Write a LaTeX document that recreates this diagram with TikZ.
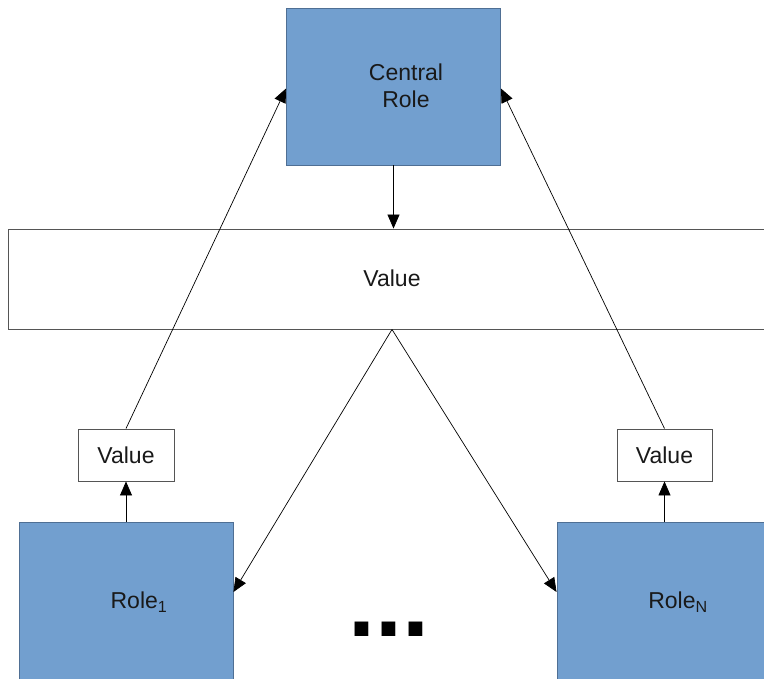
\documentclass[tikz,border=0pt]{standalone}
\usepackage{fontspec}
\setmainfont{Liberation Sans}
\usetikzlibrary{arrows.meta,calc}
\definecolor{roleblue}{HTML}{729FCF}
\definecolor{roleedge}{HTML}{4F6F94}
\definecolor{boxedge}{HTML}{555555}
\begin{document}
\begin{tikzpicture}[x=1pt,y=-1pt,
  rolebox/.style={draw=roleedge,line width=0.9pt,fill=roleblue,inner sep=0pt},
  valbox/.style={draw=boxedge,line width=0.9pt,fill=white,inner sep=0pt},
  lbl/.style={font=\fontsize{23}{27}\selectfont,align=center,text=black!90},
  flow/.style={draw=black,line width=0.7pt,-{Triangle[length=14pt,width=12pt]}}]
\useasboundingbox (0,0) rectangle (764,679);
\clip (0,0) rectangle (764,679);
% shapes
\node[rolebox,minimum width=214pt,minimum height=157pt] (central) at (393.5,86.5) {};
\node[lbl] (centraltxt) at (406,86) {Central\\Role};
\node[valbox,minimum width=768pt,minimum height=100pt] (wide) at (392,279) {};
\node[lbl] (widetxt) at (392,278) {Value};
\node[valbox,minimum width=96pt,minimum height=52pt] (lv) at (126,455) {};
\node[lbl] (lvtxt) at (126,455) {Value};
\node[valbox,minimum width=95pt,minimum height=52pt] (rv) at (664.5,455) {};
\node[lbl] (rvtxt) at (664.5,455) {Value};
\node[rolebox,minimum width=214pt,minimum height=160pt] (role1) at (126,602) {};
\node[lbl] (role1txt) at (139,602) {Role\textsubscript{1}};
\node[rolebox,minimum width=242pt,minimum height=160pt] (rolen) at (678,602) {};
\node[lbl] (rolentxt) at (678,602) {Role\textsubscript{N}};
\node[font=\fontsize{97}{97}\selectfont\bfseries,inner sep=0pt,anchor=base] (dots) at (389,636) {...};
% connectors
\draw[flow] (central.south) -- (central.south |- wide.north);
\draw[flow] (lv.north) -- ([yshift=-2pt]central.west);
\draw[flow] (rv.north) -- ([yshift=-2pt]central.east);
\draw[flow] (wide.south) -- ([yshift=10pt]role1.east);
\draw[flow] (wide.south) -- ([yshift=10pt]rolen.west);
\draw[flow] (role1.north) -- (lv.south);
\draw[flow] (rolen.north -| rv.south) -- (rv.south);
\end{tikzpicture}
\end{document}
